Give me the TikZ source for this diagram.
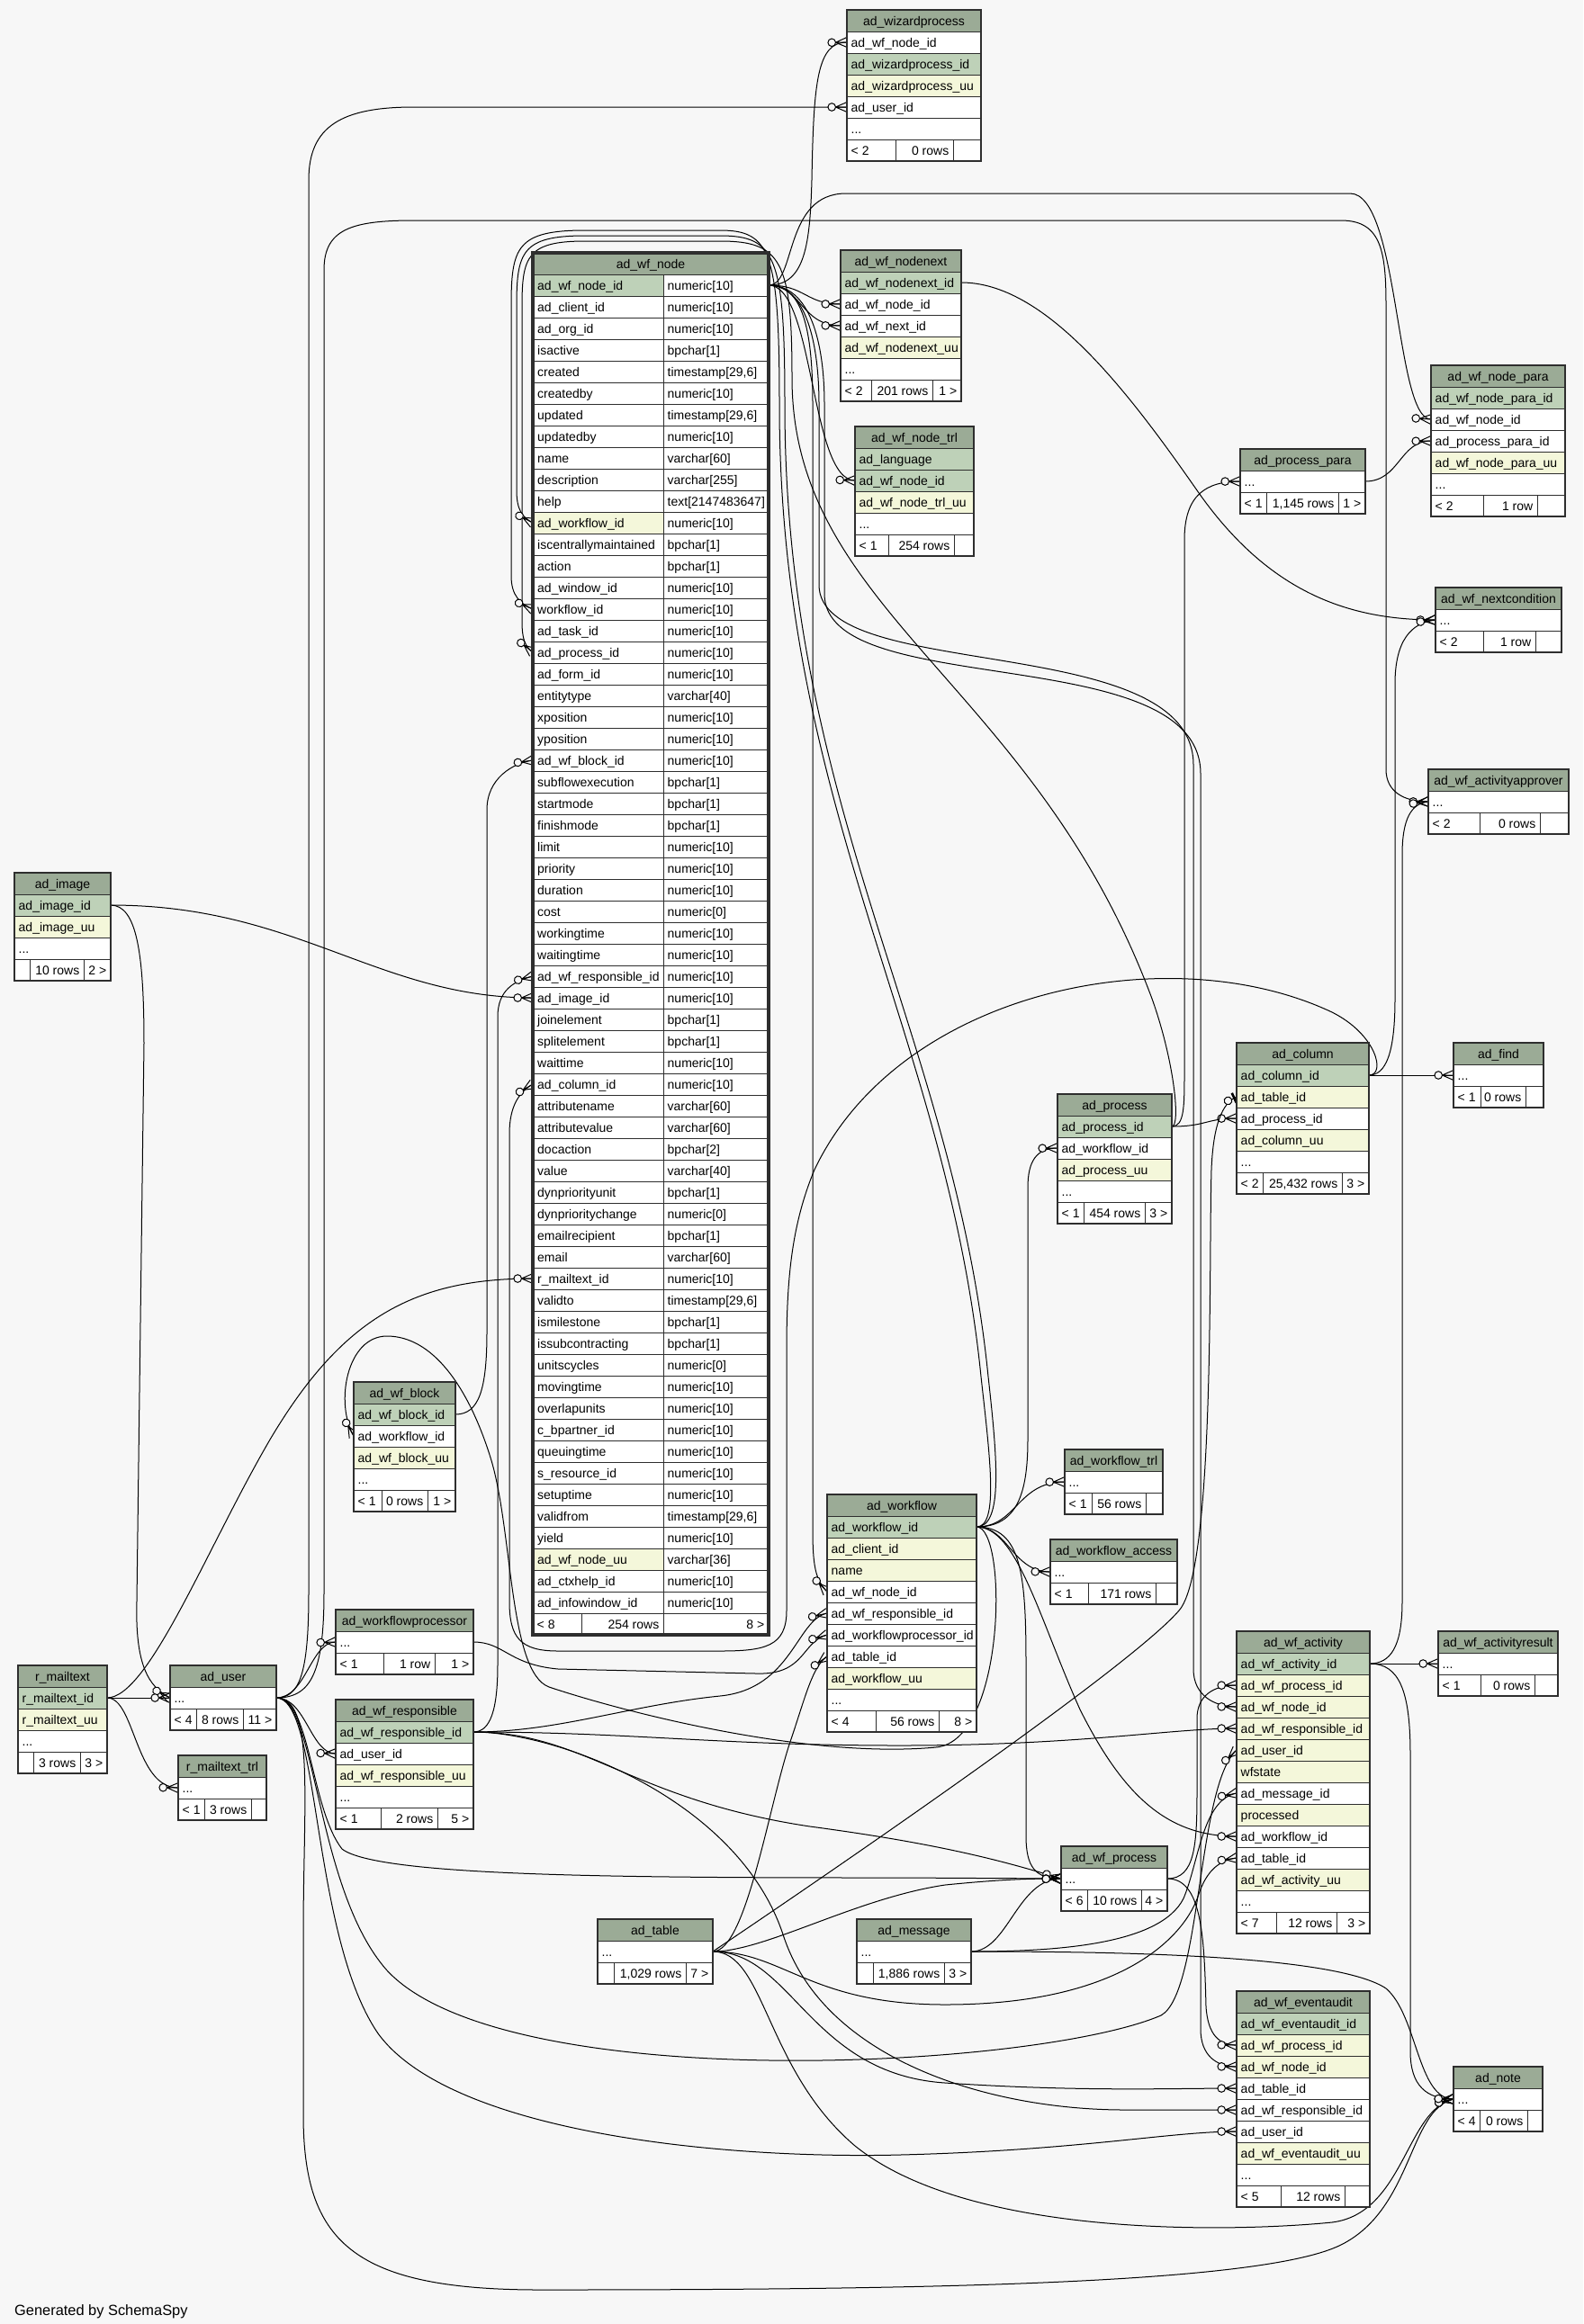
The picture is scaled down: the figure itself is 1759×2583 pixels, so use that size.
\documentclass[tikz,border=0pt]{standalone}
\usepackage{fontspec}
\setmainfont{Liberation Sans}
\usetikzlibrary{decorations.markings}
\definecolor{bgc}{HTML}{F7F7F7}
\definecolor{hdrc}{HTML}{9BAB96}
\definecolor{pkc}{HTML}{BED1B8}
\definecolor{idxc}{HTML}{F4F7DA}
\definecolor{tl}{HTML}{2E2E2E}
\newcounter{cc}
\newcommand\dd{...}
% marks are placed 0.6pt before the path end, so coordinates are shifted by +0.6pt
\newcommand\crowmark{\draw[black,line width=1pt] (-11.9pt,0pt) -- (0.6pt,5.5pt) (-11.9pt,0pt) -- (0.6pt,-5.5pt) (-11.9pt,0pt) -- (0.6pt,0pt); \draw[black,line width=1pt,fill=bgc] (-16.2pt,0pt) circle (4.3pt);}
\newcommand\teemark{\draw[black,line width=2.6pt] (-2.4pt,-6pt) -- (-2.4pt,6pt); \draw[black,line width=1pt,fill=bgc] (-9.9pt,0pt) circle (4.3pt);}
\tikzset{
  txt/.style={anchor=base west,inner sep=0pt},
  txtr/.style={anchor=base east,inner sep=0pt},
  ttl/.style={anchor=base,inner sep=0pt},
  fk/.style={draw=black,line width=1pt,postaction={decorate,decoration={markings,mark=at position -0.6pt with {\crowmark}}}},
  fkt/.style={draw=black,line width=1pt,postaction={decorate,decoration={markings,mark=at position -0.6pt with {\teemark}}}},
}
% table header + single-column rows
\newcommand\dbt[6]{%
  \path[draw=tl,fill=hdrc,line width=1pt] (#3,#5) rectangle (#4,#5+24);
  \node[ttl,name=#1] at ({(#3+#4)/2},#5+17) {#2};
  \foreach \rk/\rt [count=\n from 0] in {#6} {
    \stepcounter{cc}
    \path[draw=tl,fill=\rk,line width=1pt] (#3,#5+24+24*\n) rectangle (#4,#5+48+24*\n);
    \node[txt,name=c\thecc] at (#3+4.5,#5+41+24*\n) {\rt};
  }
}
% footer: left right top d1 d2 t1 t2 t3
\newcommand\dbf[8]{%
  \path[draw=tl,fill=white,line width=1pt] (#1,#3) rectangle (#4,#3+24) (#4,#3) rectangle (#5,#3+24) (#5,#3) rectangle (#2,#3+24);
  \stepcounter{cc}\node[txt,name=c\thecc] at (#1+4.5,#3+17) {#6};
  \stepcounter{cc}\node[txtr,name=c\thecc] at (#5-4.5,#3+17) {#7};
  \stepcounter{cc}\node[txtr,name=c\thecc] at (#2-4.5,#3+17) {#8};
}
\newcommand\dbb[4]{\draw[tl,line width=1.8pt] (#1,#3) rectangle (#2,#4);}
\begin{document}
\catcode`\_=12\relax
\begin{tikzpicture}[x=1pt,y=-1pt,font=\fontsize{14}{17}\selectfont]
\useasboundingbox (0,0) rectangle (1759,2583);
\fill[bgc] (0,0) rectangle (1759,2583);
% ---------- ports ----------
\coordinate (pNode) at (854,317);
\coordinate (pNN) at (1068,314);
\coordinate (pPP) at (1517,535);
\coordinate (pImg) at (123,1006);
\coordinate (pBlk) at (506,1572);
\coordinate (pMail) at (119,1887);
\coordinate (pUser) at (307,1887);
\coordinate (pWPr) at (526,1825);
\coordinate (pResp) at (526,1925);
\coordinate (pWf) at (1085,1697);
\coordinate (pProc) at (1302,1252);
\coordinate (pCol) at (1521,1195);
\coordinate (pWfp) at (1297,2088);
\coordinate (pTab) at (792,2169);
\coordinate (pMsg) at (1079,2169);
\coordinate (pAct) at (1522,1849);
\coordinate (cWizNode) at (941,47);
\coordinate (cWizUser) at (941,119);
\coordinate (cNNnode) at (934,338);
\coordinate (cNNnext) at (934,362);
\coordinate (cTrl) at (950,534);
\coordinate (cNPnode) at (1590,466);
\coordinate (cNPpp) at (1590,490);
\coordinate (cPP) at (1378,535);
\coordinate (cNC) at (1595,689);
\coordinate (cAppr) at (1587,891);
\coordinate (cNwf) at (592,581);
\coordinate (cNwf2) at (592,677);
\coordinate (cNproc) at (592,725);
\coordinate (cNblk) at (592,845);
\coordinate (cNresp) at (592,1085);
\coordinate (cNimg) at (592,1109);
\coordinate (cNcol) at (592,1205);
\coordinate (cNmail) at (592,1421);
\coordinate (cBlkWf) at (393,1596);
\coordinate (cUser) at (189,1887);
\coordinate (cMtrl) at (198,1987);
\coordinate (cWPr) at (373,1825);
\coordinate (cRespUser) at (373,1949);
\coordinate (cWfNode) at (919,1769);
\coordinate (cWfResp) at (919,1793);
\coordinate (cWfWPr) at (919,1817);
\coordinate (cWfTab) at (919,1841);
\coordinate (cProcWf) at (1175,1276);
\coordinate (cColTab) at (1374,1219);
\coordinate (cColProc) at (1374,1243);
\coordinate (cFind) at (1615,1195);
\coordinate (cWtrl) at (1183,1647);
\coordinate (cWacc) at (1167,1747);
\coordinate (cWfp) at (1179,2088);
\coordinate (cActWfp) at (1374,1873);
\coordinate (cActNode) at (1374,1897);
\coordinate (cActResp) at (1374,1921);
\coordinate (cActUser) at (1374,1945);
\coordinate (cActMsg) at (1374,1993);
\coordinate (cActWf) at (1374,2041);
\coordinate (cActTab) at (1374,2065);
\coordinate (cRes) at (1598,1849);
\coordinate (cEaWfp) at (1374,2273);
\coordinate (cEaNode) at (1374,2297);
\coordinate (cEaTab) at (1374,2321);
\coordinate (cEaResp) at (1374,2345);
\coordinate (cEaUser) at (1374,2369);
\coordinate (cNote) at (1615,2333);
% ---------- connectors ----------
\draw[fk] (pNode) .. controls (895,317) and (900,270) .. (902,200) .. controls (904,90) and (908,47) .. (cWizNode);
\draw[fk] (pNode) .. controls (895,317) and (895,338) .. (cNNnode);
\draw[fk] (pNode) .. controls (890,317) and (890,362) .. (cNNnext);
\draw[fk] (pNode) .. controls (905,317) and (900,534) .. (cTrl);
\draw[fk] (pNode) .. controls (885,317) and (870,215) .. (940,215) -- (1500,215) .. controls (1555,215) and (1550,466) .. (cNPnode);
\draw[fk] (pNode) .. controls (890,317) and (903,360) .. (903,450) -- (903,1700) .. controls (903,1740) and (906,1756) .. (cWfNode);
\draw[fk] (pNode) .. controls (895,317) and (910,380) .. (910,450) -- (910,650) .. controls (910,760) and (1326,700) .. (1326,850) -- (1326,1855) .. controls (1326,1885) and (1350,1897) .. (cActNode);
\draw[fk] (pNode) .. controls (900,317) and (916,380) .. (916,450) -- (916,660) .. controls (916,780) and (1334,710) .. (1334,860) -- (1334,2255) .. controls (1334,2285) and (1352,2297) .. (cEaNode);
\draw[fk] (pNN) .. controls (1160,314) and (1250,430) .. (1330,545) .. controls (1410,660) and (1500,689) .. (cNC);
\draw[fk] (pPP) .. controls (1555,535) and (1555,490) .. (cNPpp);
\draw[fk] (pProc) .. controls (1316,1252) and (1316,1230) .. (1316,1190) -- (1316,600) .. controls (1316,550) and (1340,535) .. (cPP);
\draw[fk] (pProc) .. controls (1312,1252) and (1305,1180) .. (1280,1110) .. controls (1150,760) and (880,680) .. (880,420) .. controls (880,290) and (868,268) .. (800,268) -- (650,268) .. controls (586,268) and (580,285) .. (580,340) -- (580,690) .. controls (580,710) and (583,718) .. (cNproc);
\draw[fk] (pProc) .. controls (1340,1252) and (1340,1243) .. (cColProc);
\draw[fk] (pWf) .. controls (1130,1697) and (1142,1660) .. (1142,1600) -- (1142,1320) .. controls (1142,1290) and (1152,1276) .. (cProcWf);
\draw[fk] (pWf) .. controls (1115,1697) and (1108,1620) .. (1098,1530) .. controls (1060,1150) and (872,900) .. (872,450) .. controls (872,285) and (862,262) .. (800,262) -- (650,262) .. controls (580,262) and (574,280) .. (574,340) -- (574,545) .. controls (574,566) and (580,575) .. (cNwf);
\draw[fk] (pWf) .. controls (1110,1697) and (1100,1620) .. (1090,1530) .. controls (1052,1150) and (866,900) .. (866,450) .. controls (866,280) and (856,256) .. (800,256) -- (650,256) .. controls (574,256) and (568,275) .. (568,340) -- (568,640) .. controls (568,662) and (578,671) .. (cNwf2);
\draw[fk] (pWf) .. controls (1120,1697) and (1118,1935) .. (1040,1942) .. controls (900,1955) and (700,1905) .. (610,1875) .. controls (565,1858) and (570,1700) .. (545,1620) .. controls (520,1540) and (480,1485) .. (430,1485) .. controls (385,1485) and (372,1560) .. (cBlkWf);
\draw[fk] (pWf) .. controls (1130,1697) and (1130,1647) .. (cWtrl);
\draw[fk] (pWf) .. controls (1120,1697) and (1125,1747) .. (cWacc);
\draw[fk] (pWf) .. controls (1135,1697) and (1140,1750) .. (1140,1850) -- (1140,2040) .. controls (1140,2075) and (1150,2088) .. (cWfp);
\draw[fk] (pWf) .. controls (1130,1697) and (1155,1800) .. (1200,1900) .. controls (1250,2000) and (1300,2041) .. (cActWf);
\draw[fk] (pBlk) .. controls (532,1572) and (541,1545) .. (541,1480) -- (541,900) .. controls (541,865) and (570,848) .. (cNblk);
\draw[fk] (pImg) .. controls (330,1006) and (420,1109) .. (cNimg);
\draw[fk] (pImg) .. controls (152,1006) and (160,1060) .. (160,1160) -- (152,1780) .. controls (150,1850) and (165,1875) .. (cUser);
\draw[fk] (pMail) -- (cUser);
\draw[fk] (pMail) .. controls (150,1887) and (150,1987) .. (cMtrl);
\draw[fk] (pMail) .. controls (165,1887) and (230,1720) .. (300,1600) .. controls (380,1465) and (460,1421) .. (cNmail);
\draw[fk] (pUser) .. controls (333,1887) and (343,1860) .. (343,1770) -- (343,200) .. controls (343,140) and (380,119) .. (460,119) -- (cWizUser);
\draw[fk] (pUser) .. controls (345,1887) and (360,1860) .. (360,1770) -- (360,300) .. controls (360,255) and (390,245) .. (460,245) -- (1490,245) .. controls (1535,245) and (1540,280) .. (1540,340) -- (1540,855) .. controls (1540,880) and (1560,891) .. (cAppr);
\draw[fk] (pUser) .. controls (340,1887) and (345,1825) .. (cWPr);
\draw[fk] (pUser) .. controls (340,1887) and (345,1949) .. (cRespUser);
\draw[fk] (pUser) .. controls (345,1887) and (345,2010) .. (380,2055) .. controls (420,2086) and (700,2087) .. (1000,2087) -- (cWfp);
\draw[fk] (pUser) .. controls (352,1887) and (350,2100) .. (430,2190) .. controls (560,2330) and (1150,2300) .. (1290,2240) .. controls (1335,2215) and (1330,1985) .. (cActUser);
\draw[fk] (pUser) .. controls (356,1887) and (345,2150) .. (420,2260) .. controls (500,2370) and (800,2400) .. (1000,2395) .. controls (1200,2390) and (1300,2369) .. (cEaUser);
\draw[fk] (pUser) .. controls (350,1887) and (337,2000) .. (337,2150) -- (337,2350) .. controls (337,2490) and (390,2545) .. (600,2545) .. controls (1000,2545) and (1400,2540) .. (1490,2495) .. controls (1570,2455) and (1565,2345) .. (cNote);
\draw[fk] (pWPr) .. controls (560,1825) and (565,1850) .. (620,1855) -- (840,1860) .. controls (895,1862) and (890,1825) .. (cWfWPr);
\draw[fk] (pResp) .. controls (545,1925) and (553,1900) .. (553,1850) -- (553,1130) .. controls (553,1100) and (572,1090) .. (cNresp);
\draw[fk] (pResp) .. controls (620,1925) and (700,1895) .. (800,1885) .. controls (880,1877) and (885,1800) .. (cWfResp);
\draw[fk] (pResp) .. controls (650,1925) and (700,2000) .. (900,2030) .. controls (1050,2050) and (1120,2070) .. (cWfp);
\draw[fk] (pResp) .. controls (700,1925) and (800,1940) .. (1000,1940) .. controls (1200,1940) and (1300,1921) .. (cActResp);
\draw[fk] (pResp) .. controls (620,1925) and (820,2000) .. (870,2150) .. controls (915,2290) and (1100,2345) .. (1250,2345) -- (cEaResp);
\draw[fk] (pCol) -- (cFind);
\draw[fk] (pCol) .. controls (1540,1195) and (1550,1170) .. (1550,1110) -- (1550,760) .. controls (1550,712) and (1568,692) .. (cNC);
\draw[fk] (pCol) .. controls (1540,1195) and (1530,1150) .. (1480,1125) .. controls (1300,1040) and (1000,1100) .. (905,1300) .. controls (880,1360) and (874,1420) .. (874,1500) -- (874,1790) .. controls (874,1830) and (850,1835) .. (800,1835) -- (620,1835) .. controls (578,1835) and (566,1820) .. (566,1780) -- (566,1260) .. controls (566,1228) and (578,1213) .. (cNcol);
\draw[fk] (pAct) .. controls (1545,1849) and (1558,1830) .. (1558,1780) -- (1558,950) .. controls (1558,910) and (1568,893) .. (cAppr);
\draw[fk] (pAct) -- (cRes);
\draw[fk] (pAct) .. controls (1555,1849) and (1567,1880) .. (1567,1950) -- (1567,2280) .. controls (1567,2318) and (1585,2333) .. (cNote);
\draw[fk] (pWfp) .. controls (1328,2088) and (1330,2050) .. (1330,1990) -- (1330,1910) .. controls (1330,1885) and (1348,1873) .. (cActWfp);
\draw[fk] (pWfp) .. controls (1335,2088) and (1338,2150) .. (1340,2230) .. controls (1342,2262) and (1355,2273) .. (cEaWfp);
\draw[fk] (pTab) .. controls (830,2169) and (855,2000) .. (880,1930) .. controls (895,1885) and (903,1852) .. (cWfTab);
\draw[fkt] (pTab) .. controls (850,2130) and (1250,1860) .. (1310,1790) .. controls (1350,1745) and (1343,1400) .. (1346,1300) .. controls (1348,1250) and (1358,1226) .. (cColTab);
\draw[fk] (pTab) .. controls (850,2169) and (950,2110) .. (1050,2095) .. controls (1120,2088) and (1150,2088) .. (cWfp);
\draw[fk] (pTab) .. controls (870,2169) and (900,2228) .. (1050,2228) .. controls (1250,2228) and (1318,2150) .. (1332,2105) .. controls (1340,2082) and (1352,2068) .. (cActTab);
\draw[fk] (pTab) .. controls (880,2169) and (900,2305) .. (1050,2315) .. controls (1200,2325) and (1300,2321) .. (cEaTab);
\draw[fk] (pTab) .. controls (850,2169) and (850,2300) .. (950,2385) .. controls (1080,2490) and (1380,2480) .. (1480,2470) .. controls (1560,2460) and (1562,2345) .. (cNote);
\draw[fk] (pMsg) .. controls (1180,2169) and (1290,2160) .. (1315,2110) .. controls (1332,2070) and (1336,2000) .. (cActMsg);
\draw[fk] (pMsg) .. controls (1120,2169) and (1130,2088) .. (cWfp);
\draw[fk] (pMsg) .. controls (1200,2169) and (1480,2170) .. (1540,2210) .. controls (1575,2240) and (1575,2333) .. (cNote);
% ---------- tables ----------
% ad_wizardprocess
\dbt{tWiz}{ad_wizardprocess}{941}{1090}{11}{white/ad_wf_node_id,pkc/ad_wizardprocess_id,idxc/ad_wizardprocess_uu,white/ad_user_id,white/\dd}
\dbf{941}{1090}{155}{995}{1059}{< 2}{0 rows}{}
\dbb{941}{1090}{11}{179}
% ad_wf_node
\path[draw=tl,fill=hdrc,line width=1pt] (592,281) rectangle (854,305);
\node[ttl,name=tNode] at (723,298) {ad_wf_node};
\foreach \rk/\ra/\rb [count=\n from 0] in {pkc/ad_wf_node_id/numeric[10],white/ad_client_id/numeric[10],white/ad_org_id/numeric[10],white/isactive/bpchar[1],white/created/{timestamp[29,6]},white/createdby/numeric[10],white/updated/{timestamp[29,6]},white/updatedby/numeric[10],white/name/varchar[60],white/description/varchar[255],white/help/text[2147483647],idxc/ad_workflow_id/numeric[10],white/iscentrallymaintained/bpchar[1],white/action/bpchar[1],white/ad_window_id/numeric[10],white/workflow_id/numeric[10],white/ad_task_id/numeric[10],white/ad_process_id/numeric[10],white/ad_form_id/numeric[10],white/entitytype/varchar[40],white/xposition/numeric[10],white/yposition/numeric[10],white/ad_wf_block_id/numeric[10],white/subflowexecution/bpchar[1],white/startmode/bpchar[1],white/finishmode/bpchar[1],white/limit/numeric[10],white/priority/numeric[10],white/duration/numeric[10],white/cost/numeric[0],white/workingtime/numeric[10],white/waitingtime/numeric[10],white/ad_wf_responsible_id/numeric[10],white/ad_image_id/numeric[10],white/joinelement/bpchar[1],white/splitelement/bpchar[1],white/waittime/numeric[10],white/ad_column_id/numeric[10],white/attributename/varchar[60],white/attributevalue/varchar[60],white/docaction/bpchar[2],white/value/varchar[40],white/dynpriorityunit/bpchar[1],white/dynprioritychange/numeric[0],white/emailrecipient/bpchar[1],white/email/varchar[60],white/r_mailtext_id/numeric[10],white/validto/{timestamp[29,6]},white/ismilestone/bpchar[1],white/issubcontracting/bpchar[1],white/unitscycles/numeric[0],white/movingtime/numeric[10],white/overlapunits/numeric[10],white/c_bpartner_id/numeric[10],white/queuingtime/numeric[10],white/s_resource_id/numeric[10],white/setuptime/numeric[10],white/validfrom/{timestamp[29,6]},white/yield/numeric[10],idxc/ad_wf_node_uu/varchar[36],white/ad_ctxhelp_id/numeric[10],white/ad_infowindow_id/numeric[10]} {
  \path[draw=tl,fill=\rk,line width=1pt] (592,305+24*\n) rectangle (737,329+24*\n);
  \path[draw=tl,fill=white,line width=1pt] (737,305+24*\n) rectangle (854,329+24*\n);
  \stepcounter{cc}\node[txt,name=c\thecc] at (597,322+24*\n) {\ra};
  \stepcounter{cc}\node[txt,name=c\thecc] at (741.5,322+24*\n) {\rb};
}
\dbf{592}{854}{1793}{646}{737}{< 8}{254 rows}{8 >}
\draw[tl,line width=3.6pt] (592,281) rectangle (854,1817);
% ad_wf_nodenext
\dbt{tNN}{ad_wf_nodenext}{934}{1068}{278}{pkc/ad_wf_nodenext_id,white/ad_wf_node_id,white/ad_wf_next_id,idxc/ad_wf_nodenext_uu,white/\dd}
\dbf{934}{1068}{422}{968}{1036}{< 2}{201 rows}{1 >}
\dbb{934}{1068}{278}{446}
% ad_wf_node_trl
\dbt{tTrl}{ad_wf_node_trl}{950}{1082}{474}{pkc/ad_language,pkc/ad_wf_node_id,idxc/ad_wf_node_trl_uu,white/\dd}
\dbf{950}{1082}{594}{987}{1060}{< 1}{254 rows}{}
\dbb{950}{1082}{474}{618}
% ad_process_para
\dbt{tPP}{ad_process_para}{1378}{1517}{499}{white/\dd}
\dbf{1378}{1517}{547}{1407}{1487}{< 1}{1,145 rows}{1 >}
\dbb{1378}{1517}{499}{571}
% ad_wf_node_para
\dbt{tNP}{ad_wf_node_para}{1590}{1739}{406}{pkc/ad_wf_node_para_id,white/ad_wf_node_id,white/ad_process_para_id,idxc/ad_wf_node_para_uu,white/\dd}
\dbf{1590}{1739}{550}{1648}{1708}{< 2}{1 row}{}
\dbb{1590}{1739}{406}{574}
% ad_wf_nextcondition
\dbt{tNC}{ad_wf_nextcondition}{1595}{1735}{653}{white/\dd}
\dbf{1595}{1735}{701}{1648}{1706}{< 2}{1 row}{}
\dbb{1595}{1735}{653}{725}
% ad_wf_activityapprover
\dbt{tAppr}{ad_wf_activityapprover}{1587}{1743}{855}{white/\dd}
\dbf{1587}{1743}{903}{1644}{1711}{< 2}{0 rows}{}
\dbb{1587}{1743}{855}{927}
% ad_image
\dbt{tImg}{ad_image}{16}{123}{970}{pkc/ad_image_id,idxc/ad_image_uu,white/\dd}
\dbf{16}{123}{1066}{33}{93}{}{10 rows}{2 >}
\dbb{16}{123}{970}{1090}
% ad_wf_block
\dbt{tBlk}{ad_wf_block}{393}{506}{1536}{pkc/ad_wf_block_id,white/ad_workflow_id,idxc/ad_wf_block_uu,white/\dd}
\dbf{393}{506}{1656}{424}{475}{< 1}{0 rows}{1 >}
\dbb{393}{506}{1536}{1680}
% r_mailtext
\dbt{tMail}{r_mailtext}{20}{119}{1851}{pkc/r_mailtext_id,idxc/r_mailtext_uu,white/\dd}
\dbf{20}{119}{1947}{37}{89}{}{3 rows}{3 >}
\dbb{20}{119}{1851}{1971}
% ad_user
\dbt{tUser}{ad_user}{189}{307}{1851}{white/\dd}
\dbf{189}{307}{1899}{218}{270}{< 4}{8 rows}{11 >}
\dbb{189}{307}{1851}{1923}
% r_mailtext_trl
\dbt{tMtrl}{r_mailtext_trl}{198}{296}{1951}{white/\dd}
\dbf{198}{296}{1999}{227}{279}{< 1}{3 rows}{}
\dbb{198}{296}{1951}{2023}
% ad_workflowprocessor
\dbt{tWPr}{ad_workflowprocessor}{373}{526}{1789}{white/\dd}
\dbf{373}{526}{1837}{426}{483}{< 1}{1 row}{1 >}
\dbb{373}{526}{1789}{1861}
% ad_wf_responsible
\dbt{tResp}{ad_wf_responsible}{373}{526}{1889}{pkc/ad_wf_responsible_id,white/ad_user_id,idxc/ad_wf_responsible_uu,white/\dd}
\dbf{373}{526}{2009}{423}{486}{< 1}{2 rows}{5 >}
\dbb{373}{526}{1889}{2033}
% ad_workflow
\dbt{tWf}{ad_workflow}{919}{1085}{1661}{pkc/ad_workflow_id,idxc/ad_client_id,idxc/name,white/ad_wf_node_id,white/ad_wf_responsible_id,white/ad_workflowprocessor_id,white/ad_table_id,idxc/ad_workflow_uu,white/\dd}
\dbf{919}{1085}{1901}{973}{1043}{< 4}{56 rows}{8 >}
\dbb{919}{1085}{1661}{1925}
% ad_process
\dbt{tProc}{ad_process}{1175}{1302}{1216}{pkc/ad_process_id,white/ad_workflow_id,idxc/ad_process_uu,white/\dd}
\dbf{1175}{1302}{1336}{1204}{1272}{< 1}{454 rows}{3 >}
\dbb{1175}{1302}{1216}{1360}
% ad_column
\dbt{tCol}{ad_column}{1374}{1521}{1159}{pkc/ad_column_id,idxc/ad_table_id,white/ad_process_id,idxc/ad_column_uu,white/\dd}
\dbf{1374}{1521}{1303}{1403}{1491}{< 2}{25,432 rows}{3 >}
\dbb{1374}{1521}{1159}{1327}
% ad_find
\dbt{tFind}{ad_find}{1615}{1715}{1159}{white/\dd}
\dbf{1615}{1715}{1207}{1645}{1695}{< 1}{0 rows}{}
\dbb{1615}{1715}{1159}{1231}
% ad_workflow_trl
\dbt{tWtrl}{ad_workflow_trl}{1183}{1292}{1611}{white/\dd}
\dbf{1183}{1292}{1659}{1213}{1273}{< 1}{56 rows}{}
\dbb{1183}{1292}{1611}{1683}
% ad_workflow_access
\dbt{tWacc}{ad_workflow_access}{1167}{1308}{1711}{white/\dd}
\dbf{1167}{1308}{1759}{1209}{1284}{< 1}{171 rows}{}
\dbb{1167}{1308}{1711}{1783}
% ad_wf_process
\dbt{tWfp}{ad_wf_process}{1179}{1297}{2052}{white/\dd}
\dbf{1179}{1297}{2100}{1208}{1268}{< 6}{10 rows}{4 >}
\dbb{1179}{1297}{2052}{2124}
% ad_table
\dbt{tTab}{ad_table}{664}{792}{2133}{white/\dd}
\dbf{664}{792}{2181}{682}{762}{}{1,029 rows}{7 >}
\dbb{664}{792}{2133}{2205}
% ad_message
\dbt{tMsg}{ad_message}{952}{1079}{2133}{white/\dd}
\dbf{952}{1079}{2181}{970}{1049}{}{1,886 rows}{3 >}
\dbb{952}{1079}{2133}{2205}
% ad_wf_activity
\dbt{tAct}{ad_wf_activity}{1374}{1522}{1813}{pkc/ad_wf_activity_id,idxc/ad_wf_process_id,idxc/ad_wf_node_id,idxc/ad_wf_responsible_id,idxc/ad_user_id,idxc/wfstate,white/ad_message_id,idxc/processed,white/ad_workflow_id,white/ad_table_id,idxc/ad_wf_activity_uu,white/\dd}
\dbf{1374}{1522}{2125}{1418}{1485}{< 7}{12 rows}{3 >}
\dbb{1374}{1522}{1813}{2149}
% ad_wf_activityresult
\dbt{tRes}{ad_wf_activityresult}{1598}{1731}{1813}{white/\dd}
\dbf{1598}{1731}{1861}{1645}{1705}{< 1}{0 rows}{}
\dbb{1598}{1731}{1813}{1885}
% ad_wf_eventaudit
\dbt{tEa}{ad_wf_eventaudit}{1374}{1522}{2213}{pkc/ad_wf_eventaudit_id,idxc/ad_wf_process_id,idxc/ad_wf_node_id,white/ad_table_id,white/ad_wf_responsible_id,white/ad_user_id,idxc/ad_wf_eventaudit_uu,white/\dd}
\dbf{1374}{1522}{2429}{1423}{1494}{< 5}{12 rows}{}
\dbb{1374}{1522}{2213}{2453}
% ad_note
\dbt{tNote}{ad_note}{1615}{1714}{2297}{white/\dd}
\dbf{1615}{1714}{2345}{1644}{1697}{< 4}{0 rows}{}
\dbb{1615}{1714}{2297}{2369}
% credit
\node[txt,name=gen,font=\fontsize{16.4}{19}\selectfont] at (16,2573) {Generated by SchemaSpy};
\end{tikzpicture}
\end{document}
